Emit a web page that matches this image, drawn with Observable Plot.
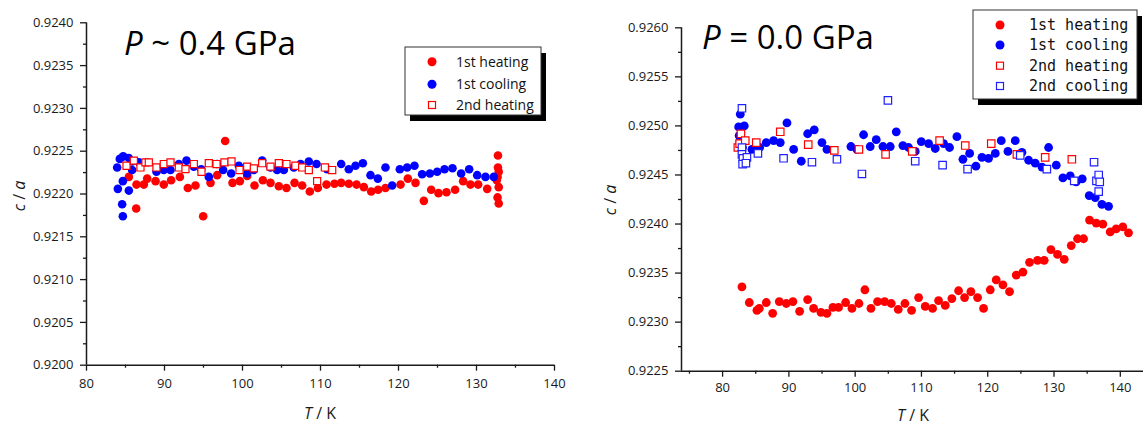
<!DOCTYPE html>
<html>
<head>
<meta charset="utf-8">
<script src="https://cdn.jsdelivr.net/npm/d3@7"></script>
<script src="https://cdn.jsdelivr.net/npm/@observablehq/plot@0.6"></script>
<style>
  html, body { margin: 0; padding: 0; background: #fff; }
  #wrap { position: relative; width: 1143px; height: 428px; overflow: hidden; background: #fff; }
  #left, #right { position: absolute; top: 0; }
  #left { left: 0; }
  #right { left: 590px; }
  #overlay { position: absolute; left: 0; top: 0; pointer-events: none; }
</style>
</head>
<body>
<div id="wrap">
  <div id="left"></div>
  <div id="right"></div>
  <svg id="overlay" width="1143" height="428"></svg>
</div>
<script>
// ---------- Panel A: P ~ 0.4 GPa ----------
const titleA = "~ 0.4 GPa";
const xTicksA = [80, 90, 100, 110, 120, 130, 140];
const xMinorA = [85, 95, 105, 115, 125, 135];
const yTicksA = [0.9200, 0.9205, 0.9210, 0.9215, 0.9220, 0.9225, 0.9230, 0.9235, 0.9240];
const yMinorA = [0.92025, 0.92075, 0.92125, 0.92175, 0.92225, 0.92275, 0.92325, 0.92375];
const legendA = ["1st heating", "1st cooling", "2nd heating"];

const heat1A_T = [85.43, 86.37, 86.41, 87.35, 87.78, 88.85, 89.91, 90.85, 91.97, 92.99, 93.97, 94.96, 95.90, 96.75, 97.78, 98.72, 99.66, 100.60, 101.54, 102.61, 103.59, 104.66, 105.64, 106.67, 107.65, 108.63, 109.66, 110.77, 111.79, 112.65, 113.63, 114.62, 115.56, 116.50, 117.39, 118.33, 120.26, 121.20, 122.18, 123.25, 124.19, 125.13, 126.15, 127.26, 128.29, 129.23, 130.21, 131.37, 132.75, 132.75, 132.85, 132.70, 132.60, 132.85, 132.70, 132.85];
const heat1A_CA = [0.92220, 0.92183, 0.92211, 0.92211, 0.92218, 0.92215, 0.92211, 0.92216, 0.92220, 0.92207, 0.92210, 0.92174, 0.92213, 0.92222, 0.92262, 0.92213, 0.92215, 0.92221, 0.92210, 0.92216, 0.92213, 0.92209, 0.92207, 0.92213, 0.92210, 0.92203, 0.92207, 0.92211, 0.92212, 0.92213, 0.92212, 0.92211, 0.92208, 0.92203, 0.92205, 0.92207, 0.92211, 0.92218, 0.92213, 0.92192, 0.92205, 0.92201, 0.92202, 0.92205, 0.92215, 0.92211, 0.92211, 0.92206, 0.92245, 0.92231, 0.92226, 0.92220, 0.92216, 0.92208, 0.92196, 0.92189];

const cool1A_T = [83.93, 84.02, 84.27, 84.57, 84.66, 84.66, 84.70, 85.43, 85.43, 85.85, 85.85, 86.71, 88.97, 89.91, 90.77, 91.84, 92.82, 93.76, 94.70, 95.68, 96.75, 97.52, 98.55, 99.53, 100.60, 101.45, 102.52, 103.59, 104.44, 105.30, 106.58, 107.44, 108.50, 109.49, 110.85, 112.65, 113.63, 114.49, 115.43, 116.41, 117.35, 118.33, 119.19, 120.17, 121.11, 122.05, 123.03, 124.02, 124.96, 125.90, 126.92, 128.03, 129.06, 130.09, 131.15, 132.22];
const cool1A_CA = [0.92231, 0.92206, 0.92241, 0.92188, 0.92215, 0.92174, 0.92244, 0.92242, 0.92204, 0.92238, 0.92228, 0.92237, 0.92226, 0.92228, 0.92228, 0.92235, 0.92239, 0.92232, 0.92229, 0.92220, 0.92235, 0.92228, 0.92224, 0.92233, 0.92224, 0.92228, 0.92239, 0.92231, 0.92228, 0.92228, 0.92231, 0.92235, 0.92238, 0.92235, 0.92229, 0.92235, 0.92229, 0.92233, 0.92236, 0.92222, 0.92218, 0.92231, 0.92210, 0.92229, 0.92231, 0.92233, 0.92223, 0.92224, 0.92226, 0.92229, 0.92230, 0.92224, 0.92229, 0.92222, 0.92220, 0.92220];

const heat2A_T = [85.13, 86.07, 86.92, 87.56, 87.99, 88.97, 89.91, 90.77, 91.84, 92.69, 93.76, 94.74, 95.68, 96.67, 97.69, 98.59, 99.62, 100.60, 101.45, 102.52, 103.59, 104.66, 105.64, 106.79, 107.65, 108.50, 109.57, 110.56, 111.50];
const heat2A_CA = [0.92233, 0.92239, 0.92231, 0.92237, 0.92237, 0.92231, 0.92235, 0.92237, 0.92231, 0.92229, 0.92235, 0.92226, 0.92236, 0.92235, 0.92237, 0.92238, 0.92228, 0.92232, 0.92230, 0.92236, 0.92232, 0.92236, 0.92235, 0.92233, 0.92231, 0.92228, 0.92215, 0.92231, 0.92228];

// ---------- Panel B: P = 0.0 GPa ----------
const titleB = "= 0.0 GPa";
const xTicksB = [80, 90, 100, 110, 120, 130, 140];
const xMinorB = [75, 85, 95, 105, 115, 125, 135];
const yTicksB = [0.9225, 0.9230, 0.9235, 0.9240, 0.9245, 0.9250, 0.9255, 0.9260];
const yMinorB = [0.92275, 0.92325, 0.92375, 0.92425, 0.92475, 0.92525, 0.92575];
const legendB = ["1st heating", "1st cooling", "2nd heating", "2nd cooling"];

const heat1B_T = [82.92, 84.03, 85.18, 85.54, 86.59, 87.55, 88.55, 89.61, 90.61, 91.62, 92.83, 93.73, 94.84, 95.74, 96.65, 97.50, 98.56, 99.51, 100.57, 101.47, 102.38, 103.38, 104.44, 105.45, 106.50, 107.51, 108.51, 109.57, 110.57, 111.68, 112.58, 113.59, 114.59, 115.60, 116.51, 117.46, 118.47, 119.37, 120.38, 121.28, 122.29, 123.29, 124.30, 125.31, 126.31, 127.52, 128.52, 129.53, 130.53, 131.54, 132.60, 133.55, 134.46, 135.36, 136.37, 137.37, 138.48, 139.38, 140.38, 141.24];
const heat1B_CA = [0.92336, 0.92320, 0.92312, 0.92314, 0.92320, 0.92309, 0.92321, 0.92319, 0.92321, 0.92311, 0.92323, 0.92314, 0.92310, 0.92309, 0.92315, 0.92315, 0.92320, 0.92314, 0.92319, 0.92333, 0.92314, 0.92321, 0.92321, 0.92319, 0.92313, 0.92319, 0.92312, 0.92325, 0.92316, 0.92314, 0.92322, 0.92317, 0.92324, 0.92332, 0.92325, 0.92331, 0.92325, 0.92314, 0.92333, 0.92343, 0.92338, 0.92331, 0.92348, 0.92351, 0.92361, 0.92363, 0.92363, 0.92374, 0.92369, 0.92364, 0.92378, 0.92385, 0.92385, 0.92404, 0.92401, 0.92400, 0.92392, 0.92395, 0.92397, 0.92391];

const cool1B_T = [82.42, 82.50, 82.60, 82.67, 83.00, 83.27, 84.43, 85.59, 86.59, 87.70, 88.70, 89.71, 90.72, 91.87, 92.83, 93.83, 94.99, 95.74, 99.36, 100.27, 101.27, 102.27, 103.18, 104.19, 105.29, 106.20, 107.20, 108.06, 109.06, 109.97, 111.08, 112.08, 113.34, 114.24, 115.35, 116.26, 117.27, 118.22, 119.13, 120.13, 121.14, 122.04, 123.05, 124.15, 125.16, 126.17, 127.17, 128.18, 129.18, 130.34, 131.34, 132.45, 133.35, 134.26, 135.31, 136.22, 137.22, 138.23];
const cool1B_CA = [0.92499, 0.92490, 0.92484, 0.92512, 0.92478, 0.92500, 0.92476, 0.92478, 0.92483, 0.92485, 0.92483, 0.92503, 0.92476, 0.92464, 0.92492, 0.92496, 0.92483, 0.92476, 0.92479, 0.92476, 0.92491, 0.92479, 0.92486, 0.92479, 0.92479, 0.92494, 0.92480, 0.92478, 0.92474, 0.92484, 0.92482, 0.92477, 0.92482, 0.92478, 0.92489, 0.92466, 0.92472, 0.92459, 0.92468, 0.92467, 0.92472, 0.92485, 0.92474, 0.92485, 0.92473, 0.92465, 0.92462, 0.92458, 0.92478, 0.92460, 0.92447, 0.92449, 0.92443, 0.92446, 0.92429, 0.92427, 0.92420, 0.92418];

const heat2B_T = [82.30, 82.57, 82.77, 83.42, 85.08, 88.70, 92.92, 96.85, 100.57, 104.59, 108.61, 112.74, 116.61, 120.53, 124.40, 128.67, 132.69];
const heat2B_CA = [0.92478, 0.92482, 0.92492, 0.92485, 0.92483, 0.92494, 0.92481, 0.92475, 0.92476, 0.92471, 0.92474, 0.92485, 0.92480, 0.92482, 0.92471, 0.92468, 0.92466];

const cool2B_T = [82.92, 82.92, 82.92, 83.07, 83.67, 83.02, 83.52, 85.33, 89.20, 93.48, 97.25, 101.02, 104.94, 109.06, 113.19, 116.96, 124.90, 128.92, 133.05, 136.04, 136.40, 136.74, 136.90, 136.74];
const cool2B_CA = [0.92518, 0.92478, 0.92471, 0.92467, 0.92468, 0.92461, 0.92462, 0.92472, 0.92467, 0.92463, 0.92466, 0.92451, 0.92526, 0.92464, 0.92460, 0.92456, 0.92470, 0.92456, 0.92444, 0.92463, 0.92444, 0.92450, 0.92443, 0.92433];

// ---------- helpers ----------
const rows = (T, CA) => T.map((t, i) => ({T: t, ca: CA[i]}));
const fmt4 = d3.format(".4f");
const RED = "#ff0000", BLUE = "#0000ff";
const AX = "#1a1a1a";

function axes(xT, xM, yT, yM, xPad) {
  return [
    Plot.axisX({ticks: xT, tickSize: 6, tickPadding: xPad, tickFormat: d => String(d), label: null, stroke: AX, strokeWidth: 1.3}),
    Plot.axisX({ticks: xM, tickSize: 3, tickFormat: () => "", label: null, stroke: AX, strokeWidth: 1.3}),
    Plot.axisY({ticks: yT, tickSize: 6, tickPadding: 7, tickFormat: fmt4, label: null, stroke: AX, strokeWidth: 1.3}),
    Plot.axisY({ticks: yM, tickSize: 3, tickFormat: () => "", label: null, stroke: AX, strokeWidth: 1.3})
  ];
}
const style = {fontFamily: "'Open Sans', sans-serif", fontSize: "13px", color: AX, background: "transparent", overflow: "visible"};

const plotA = Plot.plot({
  width: 590, height: 428,
  marginLeft: 86, marginRight: 36, marginTop: 22.3, marginBottom: 63.3,
  x: {domain: [80, 140], label: null},
  y: {domain: [0.9200, 0.9240], label: null},
  style,
  marks: [
    ...axes(xTicksA, xMinorA, yTicksA, yMinorA, 8),
    Plot.ruleX([80], {stroke: AX, strokeWidth: 1.5}),
    Plot.ruleY([0.9200], {stroke: AX, strokeWidth: 1.5}),
    Plot.dot(rows(heat1A_T, heat1A_CA), {x: "T", y: "ca", r: 4.3, fill: RED}),
    Plot.dot(rows(cool1A_T, cool1A_CA), {x: "T", y: "ca", r: 4.3, fill: BLUE}),
    Plot.dot(rows(heat2A_T, heat2A_CA), {x: "T", y: "ca", r: 4, symbol: "square", fill: "white", stroke: RED, strokeWidth: 1.2})
  ]
});
document.getElementById("left").appendChild(plotA);

const plotB = Plot.plot({
  width: 553, height: 428,
  marginLeft: 91, marginRight: 0, marginTop: 27.3, marginBottom: 57.3,
  x: {domain: [73.8, 143.5], label: null},
  y: {domain: [0.9225, 0.9260], label: null},
  style,
  marks: [
    ...axes(xTicksB, xMinorB, yTicksB, yMinorB, 6),
    Plot.ruleX([73.8], {stroke: AX, strokeWidth: 1.5}),
    Plot.ruleY([0.9225], {stroke: AX, strokeWidth: 1.5}),
    Plot.dot(rows(heat1B_T, heat1B_CA), {x: "T", y: "ca", r: 4.4, fill: RED}),
    Plot.dot(rows(cool1B_T, cool1B_CA), {x: "T", y: "ca", r: 4.4, fill: BLUE}),
    Plot.dot(rows(heat2B_T, heat2B_CA), {x: "T", y: "ca", r: 4.2, symbol: "square", fill: "white", stroke: RED, strokeWidth: 1.2}),
    Plot.dot(rows(cool2B_T, cool2B_CA), {x: "T", y: "ca", r: 4.2, symbol: "square", fill: "white", stroke: "#2020ff", strokeWidth: 1.2})
  ]
});
document.getElementById("right").appendChild(plotB);

// ---------- overlay text: titles, axis labels, legends ----------
const ov = d3.select("#overlay");
const sans = "'Open Sans', sans-serif";

function title(x, y, rest) {
  const t = ov.append("text").attr("x", x).attr("y", y).attr("font-family", sans).attr("font-size", 33).attr("fill", "#000");
  t.append("tspan").attr("font-style", "italic").text("P");
  t.append("tspan").text(" " + rest);
}
title(124, 55, titleA);
title(702, 49, titleB);

function xLabel(cx, y) {
  const t = ov.append("text").attr("x", cx).attr("y", y).attr("text-anchor", "middle").attr("font-family", sans).attr("font-size", 16).attr("fill", AX);
  t.append("tspan").attr("font-style", "italic").text("T");
  t.append("tspan").text(" / K");
}
xLabel(320, 419);
xLabel(913, 421);

function yLabel(x, cy) {
  const t = ov.append("text").attr("transform", `translate(${x},${cy}) rotate(-90)`).attr("text-anchor", "middle").attr("font-family", sans).attr("font-size", 16).attr("fill", AX);
  t.append("tspan").attr("font-style", "italic").text("c");
  t.append("tspan").text(" / ");
  t.append("tspan").attr("font-style", "italic").text("a");
}
yLabel(25, 196);
yLabel(616, 200);

function legend(box, items, opts) {
  ov.append("rect").attr("x", box.x + 5).attr("y", box.y + 6).attr("width", box.w).attr("height", box.h).attr("fill", "#000");
  ov.append("rect").attr("x", box.x).attr("y", box.y).attr("width", box.w).attr("height", box.h).attr("fill", "#fff").attr("stroke", "#333").attr("stroke-width", 1);
  items.forEach((it, i) => {
    const cy = opts.rows[i];
    if (it.kind === "dot") {
      ov.append("circle").attr("cx", opts.sx).attr("cy", cy).attr("r", 4.5).attr("fill", it.color);
    } else {
      ov.append("rect").attr("x", opts.sx - 3.5).attr("y", cy - 3.5).attr("width", 7).attr("height", 7).attr("fill", "#fff").attr("stroke", it.color).attr("stroke-width", 1.2);
    }
    ov.append("text").attr("x", opts.tx).attr("y", cy + 5).attr("font-family", opts.font).attr("font-size", opts.size).attr("fill", "#111").attr("letter-spacing", opts.ls || 0).text(it.label);
  });
}
legend({x: 405, y: 47, w: 136, h: 68},
  [{kind: "dot", color: RED, label: legendA[0]}, {kind: "dot", color: BLUE, label: legendA[1]}, {kind: "sq", color: RED, label: legendA[2]}],
  {rows: [61.7, 84.3, 105], sx: 432, tx: 456, font: sans, size: 14});
legend({x: 973, y: 10, w: 164, h: 89},
  [{kind: "dot", color: RED, label: legendB[0]}, {kind: "dot", color: BLUE, label: legendB[1]}, {kind: "sq", color: RED, label: legendB[2]}, {kind: "sq", color: "#2020ff", label: legendB[3]}],
  {rows: [25, 45, 65.7, 86], sx: 1000, tx: 1029, font: "'DejaVu Sans Mono', monospace", size: 15});
</script>
</body>
</html>
